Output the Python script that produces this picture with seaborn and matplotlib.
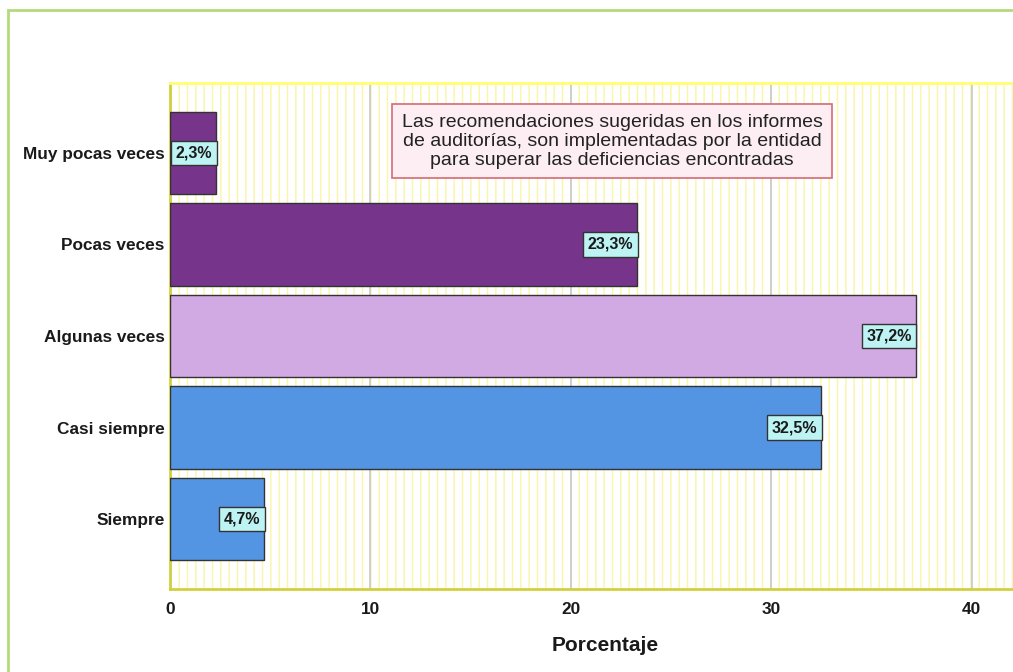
import numpy as np
import pandas as pd
import seaborn as sns
import matplotlib.pyplot as plt
from matplotlib.patches import Rectangle

# datos
categorias = ["Muy pocas veces", "Pocas veces", "Algunas veces", "Casi siempre", "Siempre"]
porcentajes = [2.3, 23.3, 37.2, 32.5, 4.7]
colores = ["#76348A", "#76348A", "#D1A9E3", "#5495E3", "#5495E3"]
titulo = ("Las recomendaciones sugeridas en los informes\n"
          "de auditorías, son implementadas por la entidad\n"
          "para superar las deficiencias encontradas")
ticks_x = [0, 10, 20, 30, 40]

df = pd.DataFrame({"categoria": categorias, "porcentaje": porcentajes})

sns.set_theme(style="white")
plt.rcParams['font.family'] = ['Liberation Sans', 'DejaVu Sans']
plt.rcParams['hatch.color'] = '#FAF5A8'
plt.rcParams['hatch.linewidth'] = 1.0

fig = plt.figure(figsize=(10.13, 6.72), dpi=100)
ax = fig.add_axes([170 / 1013, 1 - 589 / 672, (1040 - 170) / 1013, (589 - 83) / 672])

# marco verde exterior
fig.patches.append(Rectangle((8 / 1013, -0.1), 1.2, 1 - 10 / 672 + 0.1, transform=fig.transFigure,
                             fill=False, edgecolor='#B5DA7A', linewidth=2, zorder=0))

# fondo rayado amarillo
fondo = Rectangle((0, 0), 1, 1, transform=ax.transAxes, facecolor='white',
                  hatch='||', edgecolor='#FAF5A8', linewidth=0, zorder=0)
ax.add_patch(fondo)

sns.barplot(data=df, y="categoria", x="porcentaje", hue="categoria", palette=colores,
            orient="h", width=0.9, edgecolor="#333333", linewidth=1, legend=False,
            saturation=1, ax=ax, zorder=3)

ax.set_xlim(0, 43.4)
ax.set_ylim(4.765, -0.765)
ax.set_xticks(ticks_x)
ax.xaxis.grid(True, color='#C8C8C8', linewidth=1.2, zorder=1)
ax.set_axisbelow(True)

ax.spines["right"].set_visible(False)
ax.spines["top"].set_color('#FFFF70')
ax.spines["left"].set_color('#D2D040')
ax.spines["bottom"].set_color('#D2D040')
for s in ["top", "left", "bottom"]:
    ax.spines[s].set_linewidth(2)

ax.tick_params(axis='y', length=0, pad=4)
ax.tick_params(axis='x', length=0, pad=9)
for t in ax.get_yticklabels() + ax.get_xticklabels():
    t.set_fontweight('bold')
    t.set_fontsize(12.4)
    t.set_color('#1a1a1a')
ax.set_ylabel("")
ax.set_xlabel("Porcentaje", fontsize=15, fontweight='bold', color='#1a1a1a', labelpad=14)

# etiquetas de valor
barras = [p for p in ax.patches if p is not fondo]
for p in barras:
    w = p.get_width()
    yc = p.get_y() + p.get_height() / 2
    ax.text(w - 0.2, yc, f"{w:.1f}%".replace(".", ","), ha='right', va='center',
            fontsize=11.5, fontweight='bold', color='#1a1a1a', zorder=5,
            bbox=dict(boxstyle='square,pad=0.3', facecolor='#BDF3F3', edgecolor='#333333',
                      linewidth=1))

# caja del titulo
ax.text(0.508, 0.885, titulo, transform=ax.transAxes, ha='center', va='center',
        fontsize=14, color='#222222', linespacing=1.16, zorder=6,
        bbox=dict(boxstyle='square,pad=0.48', facecolor='#FCEEF3', edgecolor='#D46A78',
                  linewidth=1.2))

fig.savefig("out.png", dpi=100)
